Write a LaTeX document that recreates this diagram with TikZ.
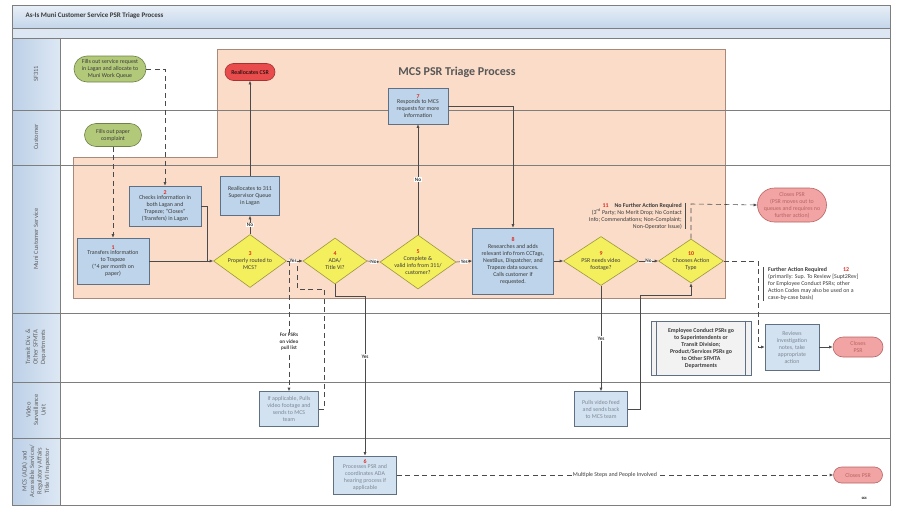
\documentclass[tikz,border=0pt]{standalone}
\usepackage{fontspec}
\setmainfont{Carlito}
\definecolor{mcsPeach}{HTML}{FADCC8}
\definecolor{mcsPeachEdge}{HTML}{A8897A}
\definecolor{mcsBlue}{HTML}{BDD4EA}
\definecolor{mcsPale}{HTML}{D3E2F1}
\definecolor{mcsEdge}{HTML}{5F7084}
\definecolor{mcsYellow}{HTML}{F4EF5C}
\definecolor{mcsYellowEdge}{HTML}{9C9640}
\definecolor{mcsGreen}{HTML}{B3C97A}
\definecolor{mcsGreenEdge}{HTML}{6E8248}
\definecolor{mcsRed}{HTML}{E84C4C}
\definecolor{mcsRedEdge}{HTML}{A23434}
\definecolor{mcsPink}{HTML}{F2A3A3}
\definecolor{mcsPinkEdge}{HTML}{B86464}
\definecolor{mcsNum}{HTML}{E02A20}
\definecolor{mcsLine}{HTML}{7E7E7E}
\definecolor{mcsArrow}{HTML}{4A4A4A}
\definecolor{mcsLaneL}{HTML}{BCD0E7}
\definecolor{mcsLaneR}{HTML}{DDE8F4}
\definecolor{mcsBarTop}{HTML}{E8EFF7}
\definecolor{mcsBarBot}{HTML}{C4D6EA}
\definecolor{mcsBand}{HTML}{DCE7F3}
\definecolor{mcsFaint}{HTML}{7D8792}
\definecolor{mcsText}{HTML}{3A3A3A}
\usepackage{tikz}
\usetikzlibrary{
	arrows.meta,
	positioning,
	shapes.geometric,
	shapes.misc
}

\newcommand{\stepno}[1]{{\color{mcsNum}\bfseries #1}}
\newcommand{\boxfont}{\fontsize{5.9}{7}\selectfont}

\tikzset{
	task/.style={draw=mcsEdge, fill=mcsBlue, line width=0.6pt, align=center, inner sep=1pt, font=\boxfont, text=mcsText},
	palestep/.style={task, fill=mcsPale, text=mcsFaint},
	decision/.style={diamond, draw=mcsYellowEdge, fill=mcsYellow, line width=0.6pt, aspect=1.45, inner sep=-3pt, align=center, font=\boxfont, text=mcsText},
	greenterm/.style={rounded rectangle, draw=mcsGreenEdge, fill=mcsGreen, line width=0.6pt, align=center, inner sep=1pt, font=\boxfont, text=mcsText},
	redterm/.style={greenterm, draw=mcsRedEdge, fill=mcsRed, text=black},
	pinkterm/.style={greenterm, draw=mcsPinkEdge, fill=mcsPink, text=mcsPinkEdge},
	flow/.style={draw=mcsArrow, line width=0.6pt, -{Latex[length=3.5pt,width=3pt]}},
	dflow/.style={flow, dash pattern=on 5pt off 3.5pt},
	yn/.style={fill=white, inner sep=0.6pt, font=\fontsize{5.2}{6.2}\selectfont\bfseries, text=mcsText},
	note/.style={inner sep=0pt, font=\boxfont, text=mcsText},
	lanelabel/.style={rotate=90, align=center, font=\fontsize{6.5}{7.5}\selectfont, text=mcsText!80}
}

\begin{document}
\begin{tikzpicture}[x=1pt,y=-1pt]
	\useasboundingbox (0,0) rectangle (902,506);
	% title bar and lane column
	\shade[top color=mcsBarTop, bottom color=mcsBarBot] (12,5) rectangle (890,28);
	\fill[mcsBand] (12,28) rectangle (890,38);
	\node[anchor=west, font=\fontsize{7}{8}\selectfont\bfseries, text=mcsText] (title) at (22,16) {As-Is Muni Customer Service PSR Triage Process};
	\shade[left color=mcsLaneL, right color=mcsLaneR] (12,38) rectangle (60,505);
	% MCS region
	\filldraw[fill=mcsPeach, draw=mcsPeachEdge, line width=0.8pt] (217,49) -- (725,49) -- (725,298) -- (73,298) -- (73,157) -- (217,157) -- cycle;
	\node[font=\fontsize{12}{14}\selectfont\bfseries, text=mcsText!85] (region) at (457,72) {MCS PSR Triage Process};
	% lanes
	\foreach \y in {38,110,165,313,382,438}{\draw[mcsLine, line width=0.8pt] (12,\y) -- (890,\y);}
	\draw[mcsLine, line width=0.8pt] (60,38) -- (60,505);
	\draw[mcsLine, line width=0.8pt] (12,28) -- (890,28);
	\draw[mcsLine, line width=1pt] (12,5) rectangle (890,505);
	\foreach \yc/\txt [count=\i] in {74/SF311, 137/Customer, 239/Muni Customer Service, 347/{Transit Div. \&\\Other SFMTA\\Departments}, 410/{Video\\Surveillance\\Unit}, 471/{MCS (ADA) and\\Accessible Services/\\Regulatory Affairs\\Title VI Inspector}}{
		\node[lanelabel] (lane\i) at (36,\yc) {\txt};
	}

	% steps
	\node[greenterm, minimum width=74pt, minimum height=26pt] (svc311) at (110,69) {Fills out service request\\in Lagan and allocate to\\Muni Work Queue};
	\node[greenterm, minimum width=59pt, minimum height=23pt] (paper) at (113,135) {Fills out paper\\complaint};
	\node[redterm, minimum width=52pt, minimum height=17pt] (csr) at (250,72) {Reallocates CSR};
	\node[task, minimum width=72pt, minimum height=40pt] (check) at (165,206) {\stepno{2}\\[-1.5pt]Checks information in\\both Lagan and\\Trapeze; “Closes”\\(Transfers) in Lagan};
	\node[task, minimum width=72pt, minimum height=46pt] (transfer) at (113,261) {\stepno{1}\\[-1.5pt]Transfers information\\to Trapeze\\(*4 per month on\\paper)};
	\node[task, minimum width=59pt, minimum height=39pt] (realloc) at (250,196) {Reallocates to 311\\Supervisor Queue\\in Lagan};
	\node[decision, minimum width=73pt, minimum height=53pt] (routed) at (250,261) {\stepno{3}\\Properly routed to\\MCS?};
	\node[decision, minimum width=64pt, minimum height=46pt] (ada) at (335,261) {\stepno{4}\\ADA/\\Title VI?};
	\node[decision, minimum width=76pt, minimum height=54pt] (valid) at (418,262) {\stepno{5}\\Complete \&\\valid info from 311/\\customer?};
	\node[task, minimum width=60pt, minimum height=36pt] (respond) at (418,106) {\stepno{7}\\[-1.5pt]Responds to MCS\\requests for more\\information};
	\node[task, minimum width=81pt, minimum height=66pt] (research) at (513,261) {\stepno{8}\\Researches and adds\\relevant info from CCTags,\\NextBus, Dispatcher, and\\Trapeze data sources.\\Calls customer if\\requested.};
	\node[decision, minimum width=75pt, minimum height=49pt] (video) at (601,261) {\stepno{9}\\PSR needs video\\footage?};
	\node[decision, minimum width=65pt, minimum height=44pt] (action) at (691,261) {\stepno{10}\\Chooses Action\\Type};
	\node[note, anchor=east, align=right] (n11) at (682,216) {\stepno{11}\quad\textbf{No Further Action Required}\\(3\textsuperscript{rd} Party; No Merit Drop; No Contact\\Info; Commendations; Non-Complaint;\\Non-Operator Issue)};
	\node[pinkterm, minimum width=71pt, minimum height=34pt] (closed1) at (792,205) {Closes PSR\\(PSR moves out to\\queues and requires no\\further action)};
	\node[note, anchor=west, align=left] (n12) at (768,284) {\textbf{Further Action Required}\hspace{16pt}\stepno{12}\\(primarily: Sup. To Review [Supt2Rev]\\for Employee Conduct PSRs; other\\Action Codes may also be used on a\\case-by-case basis)};
	\node[task, fill=black!5, font=\boxfont\bfseries, minimum width=100pt, minimum height=54pt] (employee) at (701,348) {Employee Conduct PSRs go\\to Superintendents or\\Transit Division;\\Product/Services PSRs go\\to Other SFMTA\\Departments};
	\draw[mcsEdge, line width=0.6pt] ([xshift=6pt]employee.north west) -- ([xshift=6pt]employee.south west);
	\draw[mcsEdge, line width=0.6pt] ([xshift=-6pt]employee.north east) -- ([xshift=-6pt]employee.south east);
	\node[palestep, minimum width=54pt, minimum height=46pt] (reviews) at (792,347) {Reviews\\investigation\\notes, take\\appropriate\\action};
	\node[pinkterm, minimum width=52pt, minimum height=20pt] (closed2) at (858,347) {Closes\\PSR};
	\node[palestep, minimum width=59pt, minimum height=35pt] (pullfoot) at (289,409) {If applicable, Pulls\\video footage and\\sends to MCS\\team};
	\node[palestep, minimum width=53pt, minimum height=35pt] (pullfeed) at (601,409) {Pulls video feed\\and sends back\\to MCS team};
	\node[palestep, minimum width=63pt, minimum height=38pt] (processes) at (365,475) {\stepno{6}\\[-2pt]Processes PSR and\\coordinates ADA\\hearing process if\\applicable};
	\node[pinkterm, minimum width=51pt, minimum height=16pt] (closed3) at (858,475) {Closes PSR};
	\node[font=\fontsize{3.5}{4}\selectfont\bfseries] (pageno) at (864,498) {164};

	% bends
	\coordinate (j1) at (207,261);
	\coordinate (yes3) at (289,261);
	\coordinate (r1) at (324,289);
	\coordinate (r2) at (297,265);
	\coordinate (k4) at (365,296);
	\coordinate (k9) at (640,295);
	\coordinate (k11) at (691,204);
	\coordinate (k12) at (758,261);

	% connectors
	\draw[dflow] (svc311.east) -| (check.north);
	\draw[dflow] (paper.south) -- (transfer.north);
	\draw[flow] (transfer.east) -- (routed.west);
	\draw[draw=mcsArrow, line width=0.6pt] (check.east) -| (j1);
	\draw[flow] (routed.north) -- node[yn] {No} (realloc.south);
	\draw[flow] (realloc.north) -- (csr.south);
	\draw[flow] (routed.east) -- node[yn, pos=0.4] {Yes} (ada.west);
	\draw[dflow] (yes3) -- node[yn, align=center, pos=0.62] {For PSRs\\on video\\pull list} (pullfoot.north);
	\draw[draw=mcsArrow, line width=0.6pt, dash pattern=on 5pt off 3.5pt] (pullfoot.east) -| (r1) -| (r2);
	\draw[flow] (ada.south) |- (k4) -- node[yn, pos=0.38] {Yes} (processes.north);
	\draw[flow] (ada.east) -- node[yn] {No} (valid.west);
	\draw[flow] (valid.north) -- node[yn] {No} (respond.south);
	\draw[flow] (respond.east) -| (research.north);
	\draw[flow] (valid.east) -- node[yn] {Yes} (research.west);
	\draw[flow] (research.east) -- (video.west);
	\draw[flow] (video.east) -- node[yn] {No} (action.west);
	\draw[flow] (video.south) -- node[yn] {Yes} (pullfeed.north);
	\draw[flow] (pullfeed.east) -| (k9) -| (action.south);
	\draw[mcsArrow, line width=0.5pt] ([xshift=3pt]n11.north east) -- ([xshift=3pt]n11.south east);
	\draw[dflow] (action.north) -- (k11) -- (closed1.west);
	\draw[mcsArrow, line width=0.5pt] ([xshift=-5pt]n12.north west) -- ([xshift=-5pt]n12.south west);
	\draw[dflow] (action.east) -- (k12) |- (reviews.west);
	\draw[flow] (reviews.east) -- (closed2.west);
	\draw[dflow] (processes.east) -- node[fill=white, inner sep=1pt, font=\boxfont, text=mcsText] {Multiple Steps and People Involved} (closed3.west);
\end{tikzpicture}
\end{document}
